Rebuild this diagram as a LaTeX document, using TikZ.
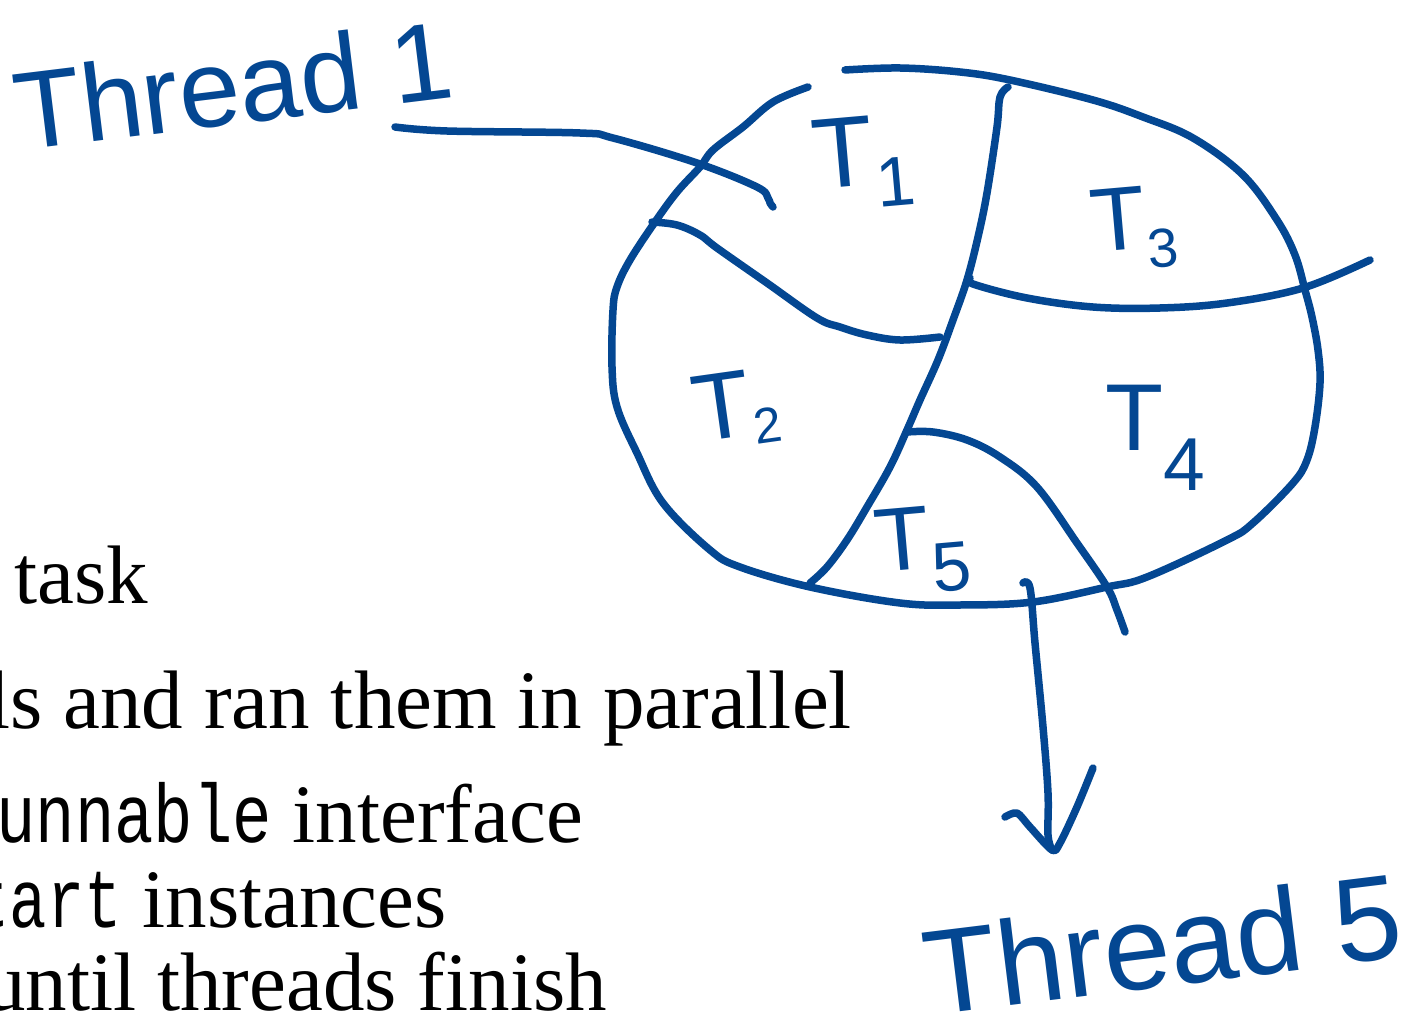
\documentclass[tikz,border=0pt]{standalone}
\usepackage{fontspec}
\usepackage{graphicx}
\setmainfont{Liberation Serif}
\newfontfamily\monof{Liberation Mono}
\newfontfamily\handf{Liberation Sans}
\definecolor{ink}{RGB}{4,71,146}
\newcommand{\Tlab}[3]{T\raisebox{-#2pt}{\fontsize{#3}{#3}\selectfont #1}}
\begin{document}
\begin{tikzpicture}[x=1pt,y=-1pt,
  pen/.style={draw=ink, line width=7.5pt, line cap=round, line join=round},
  slide/.style={inner sep=0pt, font=\fontsize{83}{83}\selectfont},
  hand/.style={inner sep=0pt, text=ink}]
\useasboundingbox (0,0) rectangle (1414,1019);
\clip (0,0) rectangle (1414,1019);
\fill[white] (0,0) rectangle (1414,1019);

% slide text
\node[slide, anchor=base east] (l1) at (148,603) {r task};
\node[slide, anchor=base east] (l2) at (852,728) {ls and ran them in parallel};
\node[slide, anchor=base east] (l3) at (583,842) {\scalebox{0.79}[1]{\monof Runnable} interface};
\node[slide, anchor=base east] (l4) at (447,927) {\scalebox{0.75}[1]{\monof tart} instances};
\node[slide, anchor=base east] (l5) at (607,1010) {until threads finish};

% blob outline
\draw[pen] plot[smooth, tension=0.6] coordinates {(845,70) (900,68) (960,72) (1010,80) (1093,100) (1143,117) (1193,138) (1243,175) (1277,220) (1295,255) (1305,290) (1312,317) (1318,350) (1320,383) (1315,427) (1307,460) (1293,483) (1253,523) (1227,540) (1147,577) (1107,587) (1033,602) (960,605) (900,603) (810,587) (740,567) (710,550) (663,503) (637,453) (617,407) (612,367) (613,310) (617,287) (630,260) (655,222) (677,192) (700,167) (713,150) (743,127) (773,102) (808,87)};

% dividers
\draw[pen] plot[smooth, tension=0.6] coordinates {(1008,87) (1000,97) (997,127) (987,193) (978,237) (967,280) (953,320) (938,360) (920,400) (907,430) (890,467) (867,507) (847,540) (827,567) (810,583)};
\draw[pen] plot[smooth, tension=0.6] coordinates {(970,278) (973,284) (1027,298) (1093,307) (1160,308) (1227,303) (1303,288) (1370,260)};
\draw[pen] plot[smooth, tension=0.6] coordinates {(652,222) (677,225) (700,235) (717,248) (767,283) (817,318) (840,327) (867,335) (900,340) (940,337)};
\draw[pen] plot[smooth, tension=0.6] coordinates {(907,432) (933,432) (967,440) (1000,457) (1037,487) (1077,543) (1107,587) (1117,610) (1125,632)};

% task labels
\node[hand, anchor=base west, font=\handf\fontsize{100}{100}\selectfont, rotate=5] (t1) at (815,190) {\Tlab{1}{23}{70}};
\node[hand, anchor=base west, font=\handf\fontsize{90}{90}\selectfont, rotate=5] (t3) at (1093,253) {\Tlab{3}{20}{55}};
\node[hand, anchor=base west, font=\handf\fontsize{95}{95}\selectfont, rotate=8] (t2) at (697,443) {\Tlab{2}{10}{50}};
\node[hand, anchor=base west, font=\handf\fontsize{95}{95}\selectfont] (t4) at (1105,450) {\Tlab{4}{40}{75}};
\node[hand, anchor=base west, font=\handf\fontsize{90}{90}\selectfont, rotate=5] (t5) at (877,573) {\Tlab{5}{24}{70}};

% thread labels
\node[hand, anchor=base, font=\handf\fontsize{110}{110}\selectfont, rotate=7] (th1) at (238,124) {Thread 1};
\node[hand, anchor=base, font=\handf\fontsize{120}{120}\selectfont, rotate=7] (th5) at (1168,986) {Thread 5};

% connectors
\coordinate (c1a) at (395,127);
\coordinate (c1b) at (773,207);
\draw[pen] plot[smooth, tension=0.6] coordinates {(c1a) (447,131) (580,133) (613,138) (697,163) (757,187) (768,198) (770,203) (c1b)};
\coordinate (c5a) at (1023,583);
\coordinate (c5b) at (1052,850);
\draw[pen] plot[smooth, tension=0.6] coordinates {(c5a) (1030,588) (1035,643) (1043,727) (1048,793) (1048,835) (c5b)};
\draw[pen] plot[smooth, tension=0.5] coordinates {(1005,817) (1017,813) (1030,827) (c5b) (1060,843) (1077,807) (1093,768)};
\end{tikzpicture}
\end{document}
